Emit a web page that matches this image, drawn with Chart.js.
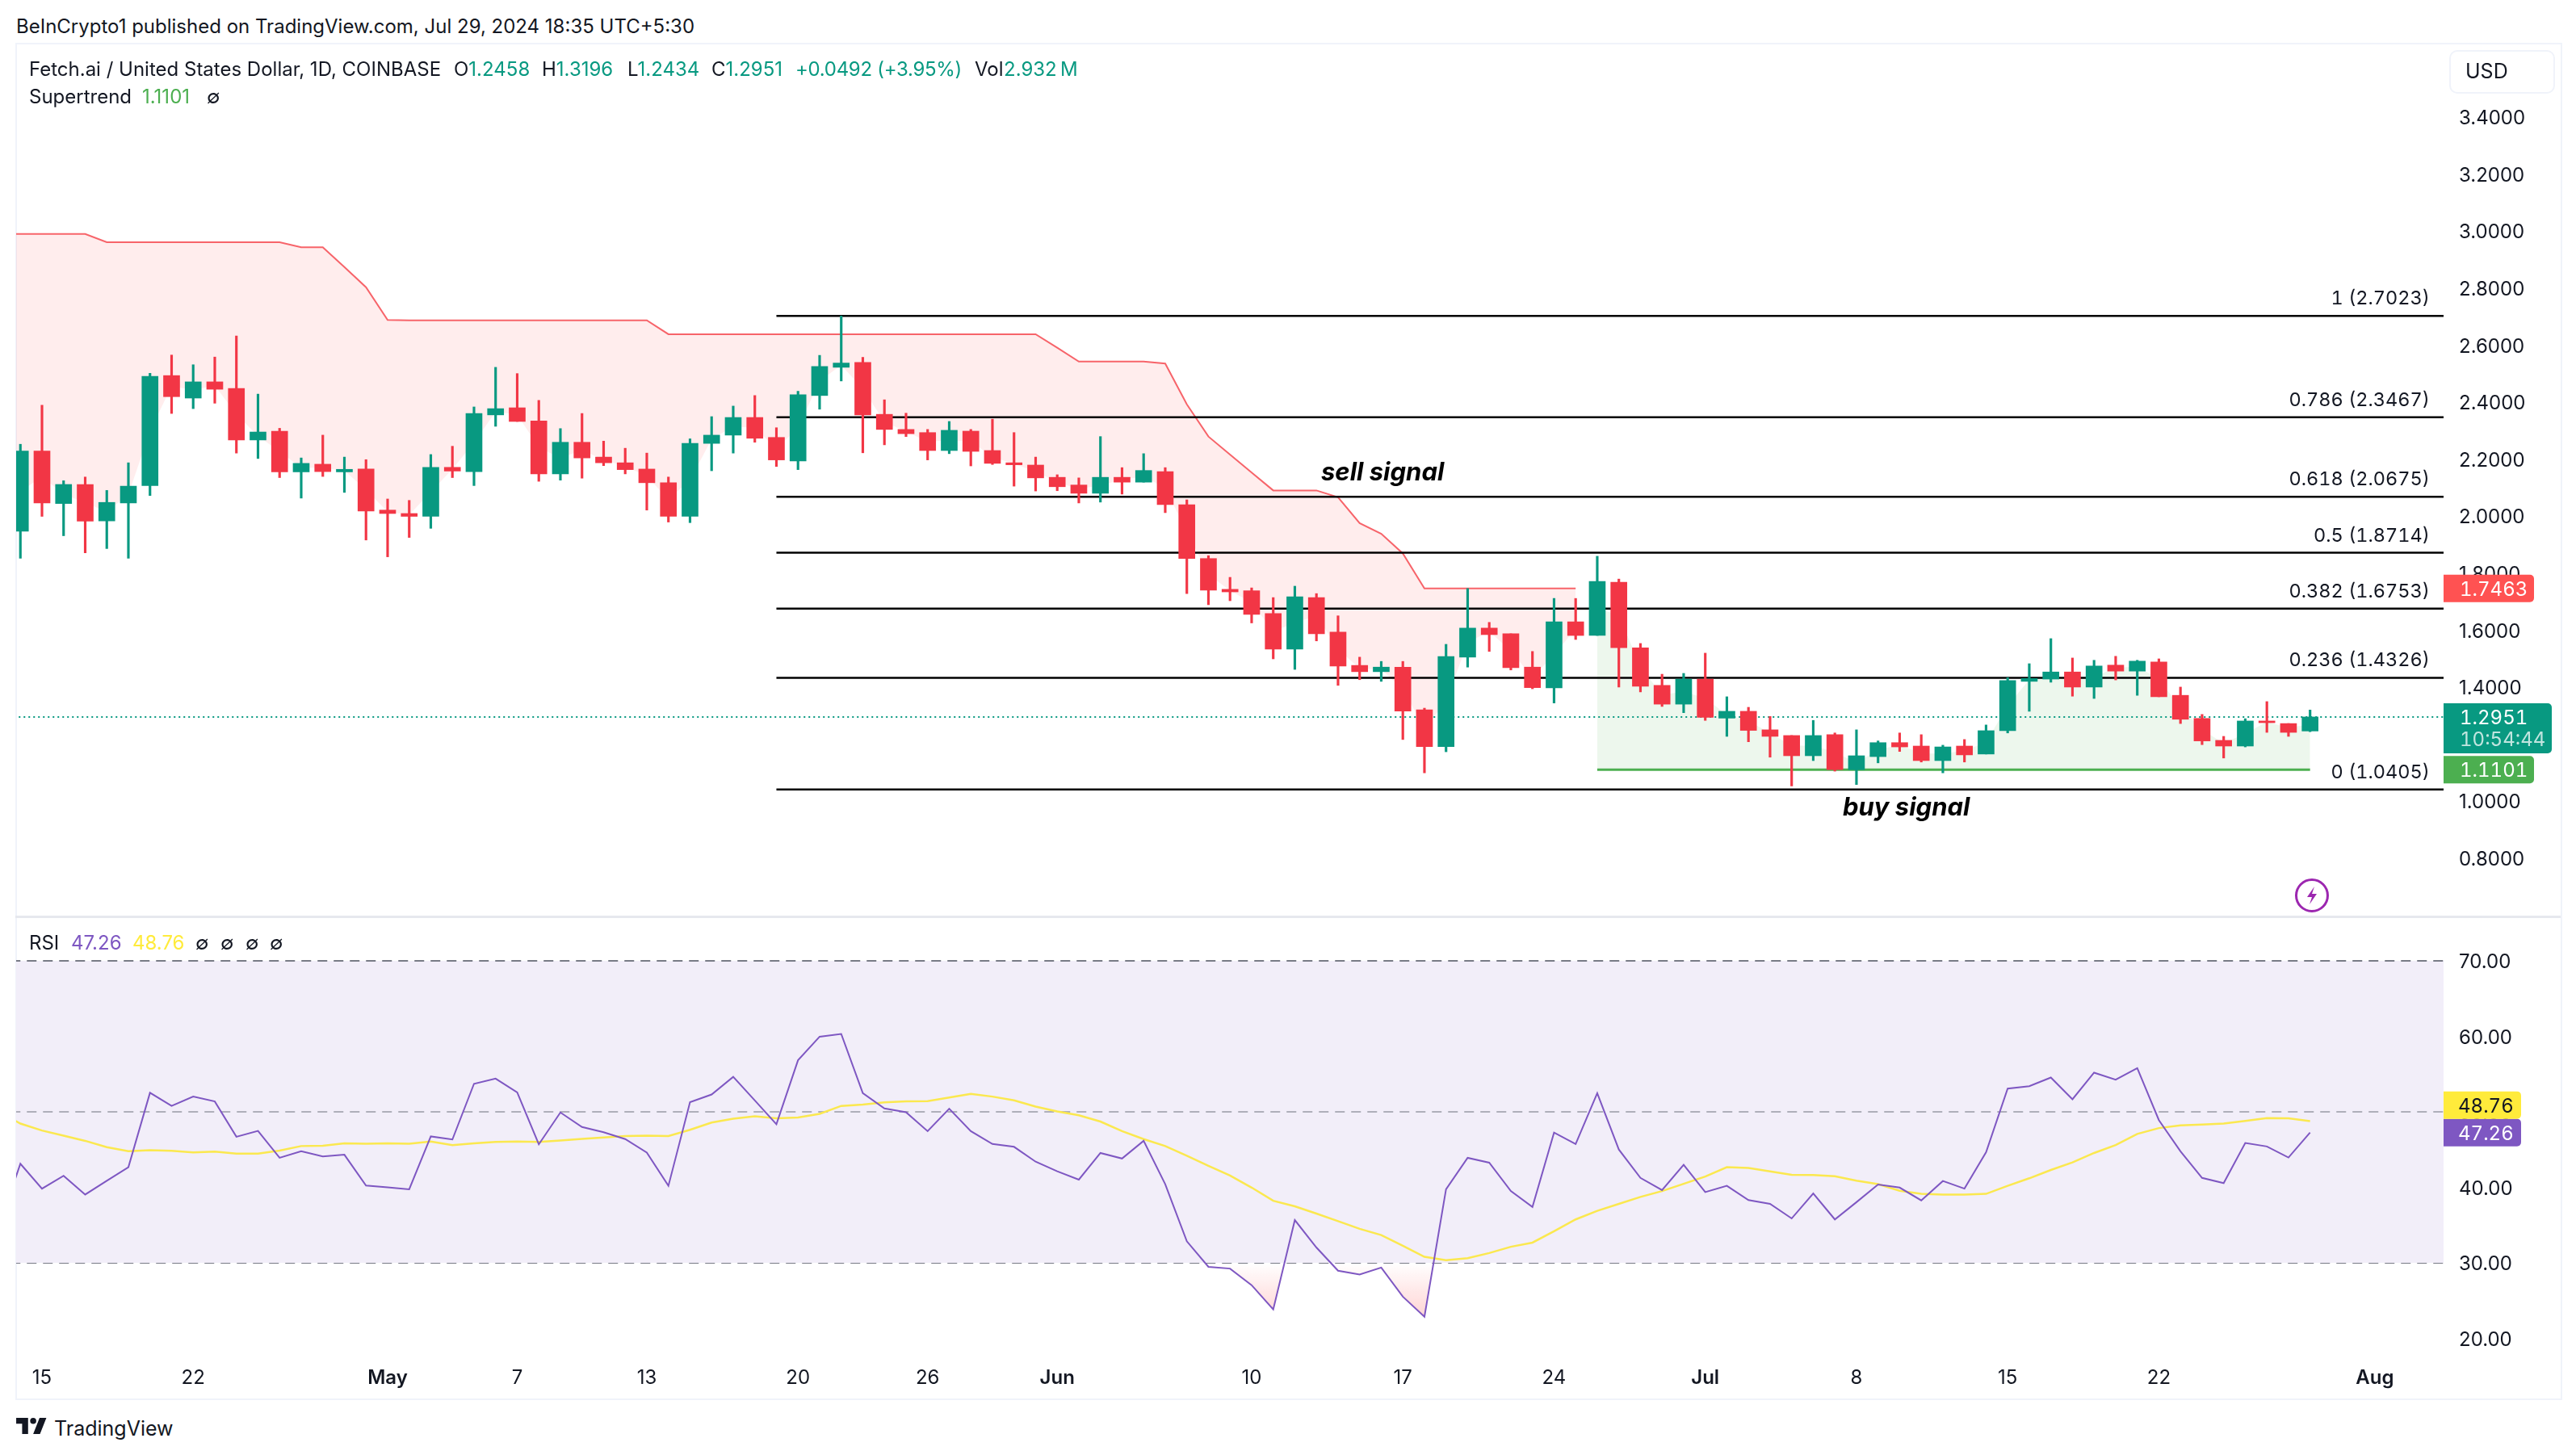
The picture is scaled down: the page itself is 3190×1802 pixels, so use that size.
<!DOCTYPE html>
<html lang="en">
<head>
<meta charset="UTF-8">
<title>Fetch.ai / United States Dollar, 1D, COINBASE</title>
<style>
  html, body { margin: 0; background: #fff; }
  body { position: relative; width: 3190px; height: 1802px; overflow: hidden; font-family: Inter, sans-serif; color: #131722; }
  canvas { position: absolute; left: 0; }
  #price { top: 55px; }
  #rsi { top: 1137px; }
  #frame { position: absolute; left: 19px; top: 53px; width: 3150px; height: 1677px; border: 2px solid #f0f3fa; }
  #split { position: absolute; left: 19px; top: 1134px; width: 3152px; height: 3px; background: #e6e8ee; }
  #usd { position: absolute; left: 3033px; top: 62px; width: 127px; height: 50px; border: 2px solid #f0f3fa; border-radius: 10px; }
  .t { position: absolute; white-space: nowrap; transform: translateY(-50%); font-size: 24px; line-height: 30px; z-index: 2; }
  .tab { font-variant-numeric: tabular-nums; }
  .up { color: #089981; }
  .st { color: #4caf50; }
  .pu { color: #7e57c2; }
  .ye { color: #ffeb3b; }
  .note { font-size: 31px; font-weight: 700; font-style: italic; color: #000; }
  svg { position: absolute; z-index: 2; }
</style>
</head>
<body>
<div id="frame"></div>
<canvas id="price" width="3190" height="1079"></canvas>
<canvas id="rsi" width="3190" height="594"></canvas>
<div id="split"></div>
<div id="usd"></div>

<div class="t" style="left:20px;top:33px">BeInCrypto1 published on TradingView.com, Jul 29, 2024 18:35 UTC+5:30</div>
<div class="t" style="left:36px;top:86px">Fetch.ai / United States Dollar, 1D, COINBASE</div>
<div class="t" style="left:562px;top:86px">O<span class="up">1.2458</span></div>
<div class="t" style="left:671px;top:86px">H<span class="up">1.3196</span></div>
<div class="t" style="left:777px;top:86px">L<span class="up">1.2434</span></div>
<div class="t" style="left:881px;top:86px">C<span class="up">1.2951</span></div>
<div class="t up" style="left:985px;top:86px;letter-spacing:-.3px">+0.0492 (+3.95%)</div>
<div class="t" style="left:1207px;top:86px">Vol</div>
<div class="t up" style="left:1243px;top:86px">2.932&thinsp;M</div>
<div class="t" style="left:36px;top:120px">Supertrend</div>
<div class="t st" style="left:176px;top:120px">1.1101</div>
<div class="t" style="left:256px;top:120px">∅</div>
<div class="t" style="left:3053px;top:88px;font-size:25px">USD</div>
<div class="t note" style="left:1636px;top:584px">sell signal</div>
<div class="t note" style="left:2282px;top:999px">buy signal</div>
<div class="t" style="left:36px;top:1168px">RSI</div>
<div class="t pu" style="left:88px;top:1168px">47.26</div>
<div class="t ye" style="left:164px;top:1168px">48.76</div>
<div class="t" style="left:242px;top:1168px">∅</div>
<div class="t" style="left:273px;top:1168px">∅</div>
<div class="t" style="left:304px;top:1168px">∅</div>
<div class="t" style="left:334px;top:1168px">∅</div>
<div class="t" style="left:67px;top:1769px;font-size:25px">TradingView</div>

<svg style="left:20px;top:1756px" width="38" height="20" viewBox="0 0 36 19">
  <path d="M14 19H7V7H0V0h14v19zM28 19h-8L27.5 0h8L28 19z" fill="#131722"/>
  <circle cx="20" cy="3.6" r="3.6" fill="#131722"/>
</svg>
<svg style="left:2841px;top:1087px" width="44" height="44" viewBox="0 0 44 44">
  <circle cx="22" cy="22" r="19.5" fill="none" stroke="#9c27b0" stroke-width="3"/>
  <path d="M25 11l-9 13h6l-3 9 9-13h-6z" fill="#9c27b0"/>
</svg>

<script src="https://cdn.jsdelivr.net/npm/chart.js"></script>
<script>
// day numbers on the x axis: 0 is Apr 15, the first candle is Apr 14
const opens = [
  1.947, 2.228, 2.044, 2.111, 1.983, 2.046, 2.107, 2.493, 2.414, 2.471, 2.448, 2.267, 2.298, 2.155, 2.182, 2.155, 2.165,
  2.021, 2.009, 1.999, 2.171, 2.156, 2.355, 2.380, 2.334, 2.148, 2.259, 2.207, 2.187, 2.165, 2.117, 1.999, 2.255, 2.284, 2.346, 2.276, 2.193, 2.423, 2.522, 2.539, 2.357, 2.304, 2.293, 2.230, 2.298, 2.230, 2.187, 2.179,
  2.136, 2.109, 2.080, 2.136, 2.119, 2.156, 2.040, 1.851, 1.743, 1.738, 1.658, 1.533, 1.714, 1.593, 1.476, 1.454, 1.470, 1.320, 1.191, 1.505, 1.607, 1.587, 1.470, 1.397, 1.629, 1.581, 1.768, 1.538, 1.406, 1.340,
  1.428, 1.291, 1.315, 1.250, 1.230, 1.159, 1.233, 1.110, 1.156, 1.205, 1.193, 1.142, 1.193, 1.165, 1.247, 1.420, 1.428, 1.453, 1.400, 1.477, 1.456, 1.488, 1.371, 1.290, 1.213, 1.193, 1.281, 1.272, 1.2458
];
const closes = [
  2.228, 2.046, 2.111, 1.982, 2.048, 2.105, 2.490, 2.419, 2.471, 2.445, 2.267, 2.295, 2.155, 2.185, 2.156, 2.164, 2.018,
  2.009, 1.999, 2.171, 2.158, 2.360, 2.377, 2.332, 2.148, 2.259, 2.204, 2.187, 2.163, 2.117, 1.999, 2.255, 2.284, 2.346, 2.273, 2.197, 2.426, 2.525, 2.537, 2.355, 2.304, 2.289, 2.230, 2.301, 2.227, 2.185, 2.180, 2.134,
  2.103, 2.080, 2.136, 2.119, 2.160, 2.040, 1.851, 1.740, 1.734, 1.655, 1.533, 1.717, 1.587, 1.474, 1.454, 1.470, 1.316, 1.191, 1.507, 1.607, 1.584, 1.468, 1.398, 1.629, 1.581, 1.771, 1.538, 1.403, 1.340, 1.428,
  1.294, 1.315, 1.248, 1.227, 1.159, 1.230, 1.110, 1.159, 1.205, 1.190, 1.142, 1.190, 1.162, 1.247, 1.423, 1.430, 1.453, 1.400, 1.474, 1.456, 1.491, 1.366, 1.287, 1.211, 1.193, 1.281, 1.275, 1.241, 1.2951
];
const highs = [
  2.252, 2.389, 2.124, 2.137, 2.090, 2.187, 2.501, 2.565, 2.531, 2.558, 2.632, 2.428, 2.308, 2.204, 2.284, 2.207, 2.198,
  2.060, 2.055, 2.216, 2.245, 2.383, 2.522, 2.500, 2.406, 2.307, 2.360, 2.263, 2.238, 2.221, 2.137, 2.271, 2.349, 2.386, 2.423, 2.310, 2.438, 2.564, 2.702, 2.557, 2.408, 2.361, 2.304, 2.332, 2.304, 2.340, 2.293, 2.207,
  2.145, 2.134, 2.279, 2.170, 2.219, 2.170, 2.057, 1.861, 1.785, 1.748, 1.714, 1.754, 1.728, 1.650, 1.505, 1.490, 1.490, 1.326, 1.550, 1.746, 1.627, 1.587, 1.525, 1.711, 1.711, 1.859, 1.779, 1.553, 1.445, 1.448,
  1.519, 1.366, 1.329, 1.297, 1.230, 1.283, 1.239, 1.250, 1.211, 1.239, 1.233, 1.196, 1.216, 1.267, 1.433, 1.482, 1.570, 1.502, 1.494, 1.508, 1.494, 1.499, 1.400, 1.304, 1.227, 1.289, 1.349, 1.272, 1.3196
];
const lows = [
  1.852, 1.999, 1.931, 1.871, 1.886, 1.852, 2.072, 2.360, 2.377, 2.396, 2.221, 2.202, 2.135, 2.063, 2.139, 2.083, 1.916,
  1.857, 1.925, 1.957, 2.135, 2.107, 2.315, 2.332, 2.122, 2.126, 2.133, 2.177, 2.148, 2.021, 1.979, 1.977, 2.159, 2.221, 2.259, 2.174, 2.163, 2.375, 2.474, 2.222, 2.250, 2.279, 2.197, 2.219, 2.176, 2.181, 2.105, 2.088,
  2.089, 2.046, 2.049, 2.077, 2.119, 2.012, 1.728, 1.689, 1.703, 1.625, 1.499, 1.462, 1.562, 1.406, 1.426, 1.420, 1.216, 1.099, 1.173, 1.470, 1.525, 1.460, 1.394, 1.344, 1.567, 1.581, 1.400, 1.383, 1.332, 1.310,
  1.283, 1.227, 1.208, 1.154, 1.053, 1.142, 1.105, 1.058, 1.134, 1.174, 1.137, 1.099, 1.137, 1.165, 1.239, 1.315, 1.417, 1.368, 1.360, 1.425, 1.371, 1.366, 1.272, 1.198, 1.151, 1.190, 1.241, 1.227, 1.2434
];

// supertrend, down part starts on Apr 13 (day -2) and up part on Jun 26 (day 72)
const supertrendDown = [
  2.990, 2.990, 2.990, 2.990, 2.990, 2.961, 2.961, 2.961, 2.961, 2.961, 2.961, 2.961, 2.961, 2.961, 2.943, 2.943, 2.874, 2.803, 2.688,
  2.687, 2.687, 2.687, 2.687, 2.687, 2.687, 2.687, 2.687, 2.687, 2.687, 2.687, 2.687,
  2.638, 2.638, 2.638, 2.638, 2.638, 2.638, 2.638, 2.638, 2.638, 2.638, 2.638, 2.638, 2.638, 2.638, 2.638, 2.638, 2.638, 2.638,
  2.591, 2.542, 2.542, 2.542, 2.542, 2.535, 2.392, 2.279, 2.216, 2.153, 2.090, 2.090, 2.090, 2.066, 1.975, 1.938, 1.869,
  1.7463, 1.7463, 1.7463, 1.7463, 1.7463, 1.7463, 1.7463, 1.7463
];
const supertrendUp = [
  1.1101, 1.1101, 1.1101, 1.1101, 1.1101, 1.1101, 1.1101, 1.1101, 1.1101, 1.1101, 1.1101, 1.1101, 1.1101, 1.1101, 1.1101, 1.1101, 1.1101,
  1.1101, 1.1101, 1.1101, 1.1101, 1.1101, 1.1101, 1.1101, 1.1101, 1.1101, 1.1101, 1.1101, 1.1101, 1.1101, 1.1101, 1.1101, 1.1101, 1.1101
];

const fibLevels = ['1', '0.786', '0.618', '0.5', '0.382', '0.236', '0'];
const fibPrices = [2.7023, 2.3467, 2.0675, 1.8714, 1.6753, 1.4326, 1.0405];
const fibStartDay = 34;

// rsi and its average, both start on Apr 13 (day -2)
const rsiValues = [
  34.70, 43.13, 39.83, 41.53, 39.05, 40.88, 42.67, 52.53, 50.79, 52.02, 51.38, 46.70, 47.48, 43.91, 44.78, 44.09, 44.32, 40.24,
  40.01, 39.74, 46.75, 46.34, 53.72, 54.41, 52.58, 45.70, 49.92, 47.99, 47.30, 46.39, 44.60, 40.20, 51.29, 52.30, 54.64, 51.52, 48.36, 56.84, 59.96, 60.32, 52.48, 50.46, 49.96, 47.44, 50.42, 47.44, 45.74, 45.37, 43.40,
  42.12, 41.02, 44.55, 43.82, 46.16, 40.42, 32.86, 29.47, 29.24, 27.04, 23.83, 35.66, 32.03, 28.96, 28.46, 29.37, 25.52, 22.86, 39.74, 43.91, 43.27, 39.51, 37.40, 47.26, 45.74, 52.48, 45.01, 41.25, 39.64, 42.99,
  39.37, 40.20, 38.31, 37.81, 35.88, 39.19, 35.75, 38.04, 40.38, 39.97, 38.27, 40.84, 39.83, 44.64, 53.08, 53.40, 54.55, 51.66, 55.19, 54.27, 55.78, 48.91, 44.78, 41.25, 40.56, 45.88, 45.42, 43.95, 47.26
];
const rsiAverage = [
  50.05, 48.45, 47.53, 46.84, 46.16, 45.33, 44.78, 44.92, 44.83, 44.64, 44.73, 44.46, 44.46, 44.87, 45.47, 45.51, 45.83, 45.79,
  45.83, 45.79, 46.06, 45.60, 45.83, 46.02, 46.06, 46.02, 46.20, 46.43, 46.61, 46.80, 46.84, 46.80, 47.62, 48.59, 49.09, 49.41, 49.14, 49.26, 49.73, 50.79, 50.97, 51.25, 51.38, 51.43, 51.89, 52.39, 52.02, 51.52, 50.70,
  50.05, 49.55, 48.72, 47.44, 46.39, 45.47, 44.18, 42.85, 41.57, 39.97, 38.22, 37.49, 36.53, 35.52, 34.51, 33.68, 32.26, 30.80, 30.34, 30.61, 31.30, 32.13, 32.68, 34.19, 35.75, 36.89, 37.81, 38.73, 39.51, 40.47,
  41.43, 42.67, 42.58, 42.12, 41.66, 41.62, 41.48, 40.88, 40.42, 39.55, 39.14, 39.05, 39.05, 39.14, 40.20, 41.20, 42.30, 43.31, 44.55, 45.60, 47.07, 47.85, 48.22, 48.31, 48.45, 48.81, 49.18, 49.14, 48.76
];
const rsiLevels = [70, 50, 30];

const priceTicks = [3.4, 3.2, 3.0, 2.8, 2.6, 2.4, 2.2, 2.0, 1.8, 1.6, 1.4, 1.2, 1.0, 0.8];
const rsiTicks = [70, 60, 50, 40, 30, 20];
const timeTickDays = [0, 7, 16, 22, 28, 35, 41, 47, 56, 63, 70, 77, 84, 91, 98, 108];
const timeTickLabels = ['15', '22', 'May', '7', '13', '20', '26', 'Jun', '10', '17', '24', 'Jul', '8', '15', '22', 'Aug'];
const monthLabels = ['May', 'Jun', 'Jul', 'Aug'];

const lastClose = 1.2951;
const countdown = '10:54:44';
const lastDownTrend = 1.7463;
const lastUpTrend = 1.1101;
const lastRsi = 47.26;
const lastRsiAverage = 48.76;

const TEAL = '#089981';
const RED = '#f23645';
const FONT = 'Inter, sans-serif';
const X_MIN = -1.196;
const X_MAX = 111.18;
const AXIS_WIDTH = 164;
const PANE_RIGHT = 3026;
const PRICE_TOP = 55;
const RSI_TOP = 1137;

const candleDays = opens.map((_, i) => i - 1);
const candleColors = opens.map((o, i) => closes[i] >= o ? TEAL : RED);
const bodyMid = i => (opens[i] + closes[i]) / 2;

function hLine(value, color, width, dash, order) {
  return {
    type: 'line',
    data: [{ x: X_MIN - 1, y: value }, { x: X_MAX + 1, y: value }],
    borderColor: color,
    borderWidth: width,
    borderDash: dash,
    pointRadius: 0,
    order: order
  };
}

function lineSet(data, color, width, order) {
  return { type: 'line', data, borderColor: color, borderWidth: width, pointRadius: 0, tension: 0, order };
}

function badge(ctx, chart, y, h, w, fill) {
  ctx.fillStyle = fill;
  ctx.beginPath();
  ctx.roundRect(chart.chartArea.right, y, w, h, [0, 5, 5, 0]);
  ctx.fill();
}

// text over the canvas, so the digits can stay tabular like the axis of the original
function overlayText(text, top, color, left, right, size) {
  const el = document.createElement('div');
  el.className = 't tab';
  el.textContent = text;
  el.style.top = top + 'px';
  el.style.color = color;
  if (left !== null) el.style.left = left + 'px';
  if (right !== null) el.style.right = right + 'px';
  if (size) el.style.fontSize = size + 'px';
  document.body.appendChild(el);
}

const priceBadges = {
  id: 'priceBadges',
  afterDraw(chart) {
    const ctx = chart.ctx;
    const y = chart.scales.y;
    ctx.save();
    badge(ctx, chart, y.getPixelForValue(lastDownTrend) - 17, 34, 112, '#ff5252');
    badge(ctx, chart, y.getPixelForValue(lastClose) - 17, 62, 134, TEAL);
    badge(ctx, chart, y.getPixelForValue(lastUpTrend) - 17, 34, 112, '#4caf50');
    ctx.restore();
  }
};

const rsiBadges = {
  id: 'rsiBadges',
  afterDraw(chart) {
    const ctx = chart.ctx;
    const cur = chart.scales.y.getPixelForValue(lastRsi);
    ctx.save();
    badge(ctx, chart, cur - 17, 34, 96, '#7e57c2');
    // the average sits on top of the rsi tag, as the two values are too close
    badge(ctx, chart, cur - 51, 34, 96, '#ffeb3b');
    ctx.restore();
  }
};

function baseOptions(yMin, yMax, yTicks, digits, xAxis) {
  return {
    responsive: false,
    animation: false,
    devicePixelRatio: 1,
    events: [],
    layout: { padding: { left: 20, right: 0, top: 0, bottom: 0 } },
    plugins: { legend: { display: false }, tooltip: { enabled: false } },
    scales: {
      x: xAxis,
      y: {
        position: 'right',
        min: yMin,
        max: yMax,
        afterBuildTicks(scale) { scale.ticks = yTicks.map(value => ({ value })); },
        afterFit(scale) { scale.width = AXIS_WIDTH; scale.paddingTop = 0; scale.paddingBottom = 0; },
        grid: { display: false, drawTicks: false },
        border: { display: false },
        ticks: {
          padding: 19,
          labelOffset: 2,
          color: '#131722',
          font: { family: FONT, size: 24 },
          callback: v => Number(v).toFixed(digits)
        }
      }
    }
  };
}

// price pane
const priceSets = [
  lineSet(supertrendDown.map((_, i) => ({ x: i - 2, y: bodyMid(Math.max(i - 1, 0)) })), 'transparent', 0, 6),
  lineSet(supertrendUp.map((_, i) => ({ x: i + 72, y: bodyMid(i + 73) })), 'transparent', 0, 6),
  Object.assign(lineSet(supertrendDown.map((v, i) => ({ x: i - 2, y: v })), '#f7646a', 2, 5),
    { fill: { target: 0 }, backgroundColor: 'rgba(255,82,82,.1)' }),
  Object.assign(lineSet(supertrendUp.map((v, i) => ({ x: i + 72, y: v })), '#4caf50', 3, 5),
    { fill: { target: 1 }, backgroundColor: 'rgba(76,175,80,.1)' }),
  hLine(lastClose, TEAL, 2, [2, 4], 3)
];
fibPrices.forEach(p => {
  priceSets.push(lineSet([{ x: fibStartDay, y: p }, { x: X_MAX + 1, y: p }], '#000', 2.5, 3));
});
priceSets.push({
  type: 'bar',
  data: candleDays.map((d, i) => ({ x: d, y: [lows[i], highs[i]] })),
  backgroundColor: candleColors,
  borderWidth: 0,
  barThickness: 2.5,
  grouped: false,
  order: 1
});
priceSets.push({
  type: 'bar',
  data: candleDays.map((d, i) => ({ x: d, y: [opens[i], closes[i]] })),
  backgroundColor: candleColors,
  borderWidth: 0,
  barThickness: 20,
  grouped: false,
  order: 0
});

const priceChart = new Chart(document.getElementById('price'), {
  type: 'bar',
  data: { datasets: priceSets },
  options: baseOptions(0.598, 3.655, priceTicks, 4, {
    type: 'linear', min: X_MIN, max: X_MAX, offset: false, display: false, grid: { display: false, offset: false }
  }),
  plugins: [priceBadges]
});

// rsi pane
const rsiCanvas = document.getElementById('rsi');
const RSI_MAX = 75.67;
const RSI_MIN = 17.81;
const rsiPaneHeight = 541;
const rsiPx = v => (RSI_MAX - v) / (RSI_MAX - RSI_MIN) * rsiPaneHeight;
const oversold = rsiCanvas.getContext('2d').createLinearGradient(0, rsiPx(30), 0, rsiPx(22));
oversold.addColorStop(0, 'rgba(255,82,82,0)');
oversold.addColorStop(1, 'rgba(255,82,82,.28)');

const rsiSets = [
  Object.assign(hLine(rsiLevels[0], '#787b86', 2, [12, 8], 5),
    { fill: { target: 1 }, backgroundColor: '#f2eef9' }),
  hLine(rsiLevels[2], '#787b86', 2, [12, 8], 5),
  hLine(rsiLevels[1], 'rgba(120,123,134,.55)', 2, [12, 8], 4),
  lineSet(rsiAverage.map((v, i) => ({ x: i - 2, y: v })), '#fbe84f', 2.5, 2),
  Object.assign(lineSet(rsiValues.map((v, i) => ({ x: i - 2, y: v })), '#7e57c2', 2, 1),
    { fill: { target: { value: 30 }, above: 'transparent', below: oversold } })
];

const rsiChart = new Chart(rsiCanvas, {
  type: 'line',
  data: { datasets: rsiSets },
  options: baseOptions(RSI_MIN, RSI_MAX, rsiTicks, 2, {
    type: 'linear',
    min: X_MIN,
    max: X_MAX,
    afterBuildTicks(scale) { scale.ticks = timeTickDays.map(value => ({ value })); },
    afterFit(scale) { scale.height = 53; scale.paddingLeft = 0; scale.paddingRight = 0; },
    grid: { display: false, drawTicks: false },
    border: { display: false },
    ticks: {
      autoSkip: false,
      maxRotation: 0,
      padding: 14,
      color: '#131722',
      font: ctx => ({
        family: FONT,
        size: 24,
        weight: ctx.tick && monthLabels.includes(ctx.tick.label) ? '600' : '400'
      }),
      callback: v => timeTickLabels[timeTickDays.indexOf(v)]
    }
  }),
  plugins: [rsiBadges]
});

// labels placed from the scales of the two charts
const py = v => PRICE_TOP + priceChart.scales.y.getPixelForValue(v);
const ry = v => RSI_TOP + rsiChart.scales.y.getPixelForValue(v);
const tagLeft = PANE_RIGHT + 20;

fibPrices.forEach((p, i) => {
  overlayText(fibLevels[i] + ' (' + p.toFixed(4) + ')', py(p) - 22, '#131722', null, 181, 23.5);
});
overlayText(lastDownTrend.toFixed(4), py(lastDownTrend) + 1, '#fff', tagLeft, null);
overlayText(lastClose.toFixed(4), py(lastClose) + 1, '#fff', tagLeft, null);
overlayText(countdown, py(lastClose) + 28, 'rgba(255,255,255,.75)', tagLeft, null);
overlayText(lastUpTrend.toFixed(4), py(lastUpTrend) + 1, '#fff', tagLeft, null);
overlayText(lastRsi.toFixed(2), ry(lastRsi) + 1, '#fff', tagLeft - 2, null);
overlayText(lastRsiAverage.toFixed(2), ry(lastRsi) - 33, '#131722', tagLeft - 2, null);
</script>
</body>
</html>
